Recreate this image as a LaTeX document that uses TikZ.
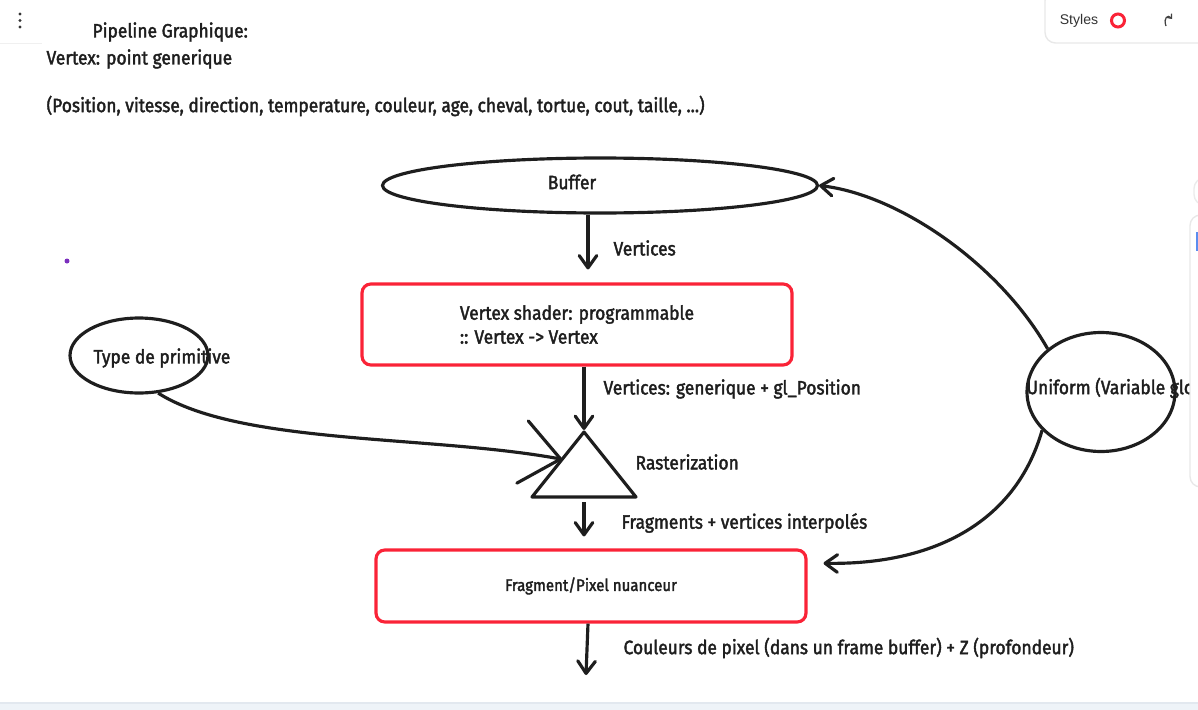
\documentclass[tikz,border=0pt]{standalone}
\usepackage{fontspec}
\setmainfont{Fira Sans}[FakeStretch=0.9,FakeBold=2]
\newfontfamily\uifont{Liberation Sans}
\usetikzlibrary{arrows.meta,shapes.geometric,calc}
\definecolor{ink}{HTML}{1E1E1E}
\definecolor{boxred}{HTML}{FA2337}
\definecolor{band}{HTML}{EEF3F8}
\definecolor{bandline}{HTML}{E2E8EF}
\definecolor{dotviolet}{HTML}{7B2FBE}
\definecolor{uiblue}{HTML}{5B8DEF}

\begin{document}
\begin{tikzpicture}
   [x=0.02cm,y=-0.02cm,line width=1.8pt,color=ink,
    ->,>={Straight Barb[length=7pt,width=10pt,round]},
    txt/.style={inner sep=0pt,font=\fontsize{11}{13.6}\selectfont},
    tl/.style={txt,anchor=west},
    oval/.style={ellipse,draw,inner sep=0pt},
    redbox/.style={rectangle,draw=boxred,rounded corners=5pt,minimum width=8.6cm,txt}]
   \useasboundingbox (0,0) rectangle (1198,710);

   \begin{scope}[-]
      \draw[black!6,line width=1pt] (0,43.5) -- (42,43.5);
      \foreach \y in {14,20.5,27}
         \fill[ink!90] (20,\y) circle (1.6);
      \draw[black!9,line width=0.8pt,fill=white,rounded corners=6pt] (1045,-10) rectangle (1230,43);
      \node[font=\uifont\fontsize{8}{9}\selectfont,color=black!80] (styles) at (1079,20.5) {Styles};
      \draw[boxred,line width=1.7pt] (1118,20.5) circle (6.5);
      \draw[-{Straight Barb[length=2pt,width=3.5pt]},line width=0.7pt,color=black!75]
         (1166,26) .. controls (1163,18) and (1168,14) .. (1172,19);
      \draw[black!8,line width=0.8pt,fill=white,rounded corners=6pt] (1194,178) rectangle (1230,205);
      \fill[band] (0,703) rectangle (1198,710);
      \draw[bandline,line width=0.8pt] (0,703) -- (1198,703);
      \fill[dotviolet] (67,261) circle (2.5);
   \end{scope}

   \node[tl] (title) at (91,32) {Pipeline Graphique:};
   \node[tl] (vdef) at (45,59) {Vertex: point generique};
   \node[tl] (attrs) at (45,106) {(Position, vitesse, direction, temperature, couleur, age, cheval, tortue, cout, taille, ...)};

   \node[oval,minimum width=8.7cm,minimum height=1.1cm] (buffer) at (600,185.5) {};
   \node[txt] (buffertxt) at (572,182) {Buffer};
   \node[redbox,minimum height=1.62cm,align=left] (vs) at (577,324.5) {Vertex shader: programmable\\:: Vertex -> Vertex};
   \node[oval,minimum width=2.76cm,minimum height=1.5cm] (prim) at (139,355.5) {};
   \node[txt] (primtxt) at (162,358) {Type de primitive};
   \node[redbox,minimum height=1.44cm,font=\fontsize{9.5}{11}\selectfont] (frag) at (591,586) {Fragment/Pixel nuanceur};
   \node[oval,minimum width=2.96cm,minimum height=2.38cm] (unif) at (1101,392) {};
   \node[tl] (uniftxt) at (1025,388) {Uniform (Variable glo};

   \coordinate (rtop) at (584,432);
   \coordinate (rbl) at (532,497);
   \coordinate (rbr) at (636,497);
   \coordinate (rbase) at ($(rbl)!0.5!(rbr)$);
   \coordinate (rleft) at ($(rtop)!0.42!(rbl)$);
   \coordinate (fout) at (586,675);
   \draw[-,line join=round] (rtop) -- (rbl) -- (rbr) -- cycle;

   \node[tl] (vlbl) at (612,248) {Vertices};
   \node[tl] (glbl) at (602,389) {Vertices: generique + gl\_Position};
   \node[tl] (rlbl) at (634,462) {Rasterization};
   \node[tl] (flbl) at (620,523) {Fragments + vertices interpolés};
   \node[tl] (clbl) at (622,648) {Couleurs de pixel (dans un frame buffer) + Z (profondeur)};

   \draw[shorten >=0.26cm] ($(buffer.south)+(-12,0)$) -- ($(vs.north)+(11,0)$);
   \draw[shorten >=0.04cm] ($(vs.south)+(7,0)$) -- (rtop);
   \draw[shorten <=0.1cm,shorten >=0.24cm] (rbase) -- ($(frag.north)+(-7,0)$);
   \draw ($(frag.south)+(-3,0)$) -- (fout);
   \draw[>={Straight Barb[length=22pt,width=36pt,round]}]
      (prim.-63) .. controls (240,445) and (430,435) .. (rleft);
   \draw (unif.141) .. controls (1000,265) and (900,195) .. (buffer.east);
   \draw[shorten >=0.32cm] (unif.213) .. controls (1015,525) and (930,565) .. ($(frag.east)+(0,-23)$);

   \begin{scope}[-]
      \draw[black!9,line width=0.8pt,fill=white,rounded corners=6pt] (1190,215) rectangle (1230,487);
      \fill[uiblue] (1196,232) rectangle (1200,251);
   \end{scope}
\end{tikzpicture}
\end{document}
